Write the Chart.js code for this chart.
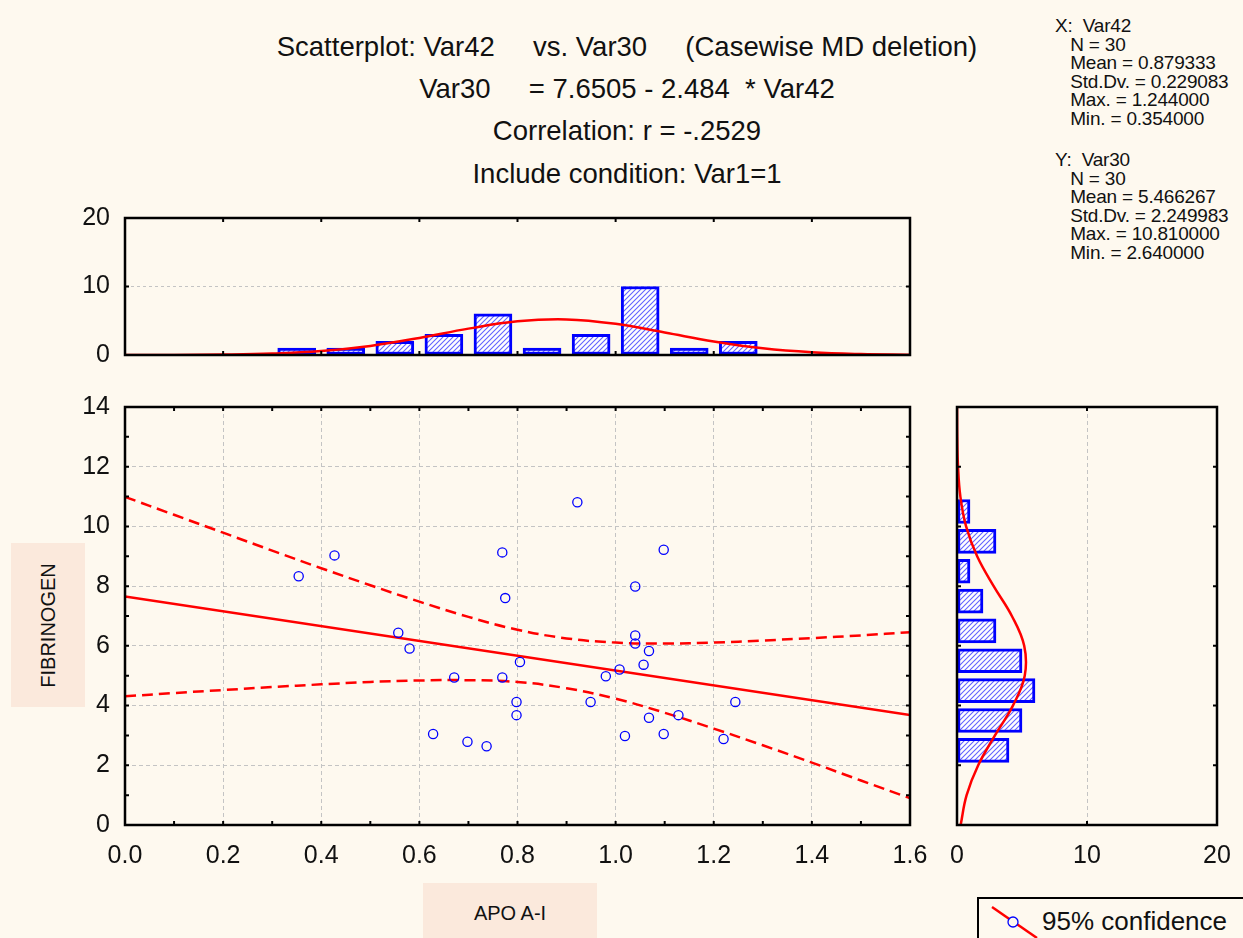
<!DOCTYPE html>
<html lang="en">
<head>
  <meta charset="UTF-8">
  <title>Scatterplot: Var42 vs. Var30</title>
  <style>
    html, body {
      margin: 0;
      width: 1243px;
      height: 938px;
      overflow: hidden;
      background: #fef9ef;
      font-family: "Liberation Sans", Arial, sans-serif;
      color: #111;
    }
    .abs { position: absolute; }
    .title {
      left: 127px;
      width: 1000px;
      text-align: center;
      font-size: 27.5px;
      line-height: 30px;
      white-space: pre;
    }
    .stats {
      left: 1055px;
      font-size: 19px;
      line-height: 18.6px;
      white-space: pre;
      letter-spacing: -0.2px;
    }
    .axlabel {
      background: #fbe9dc;
      font-size: 20px;
      display: flex;
      align-items: center;
      justify-content: center;
    }
    canvas { position: absolute; }
    .legend {
      left: 977px;
      top: 897px;
      width: 290px;
      height: 60px;
      border: 2px solid #000;
      box-sizing: border-box;
    }
  </style>
</head>
<body>
  <div class="abs title" style="top:32px">Scatterplot: Var42     vs. Var30     (Casewise MD deletion)</div>
  <div class="abs title" style="top:74px">Var30     = 7.6505 - 2.484  * Var42</div>
  <div class="abs title" style="top:116px">Correlation: r = -.2529</div>
  <div class="abs title" style="top:159px">Include condition: Var1=1</div>

  <div class="abs stats" style="top:17px">X:  Var42
   N = 30
   Mean = 0.879333
   Std.Dv. = 0.229083
   Max. = 1.244000
   Min. = 0.354000</div>
  <div class="abs stats" style="top:151px">Y:  Var30
   N = 30
   Mean = 5.466267
   Std.Dv. = 2.249983
   Max. = 10.810000
   Min. = 2.640000</div>

  <div class="abs axlabel" style="left:11px;top:543px;width:74px;height:164px">
    <span style="transform:rotate(-90deg);white-space:nowrap">FIBRINOGEN</span>
  </div>
  <div class="abs axlabel" style="left:423px;top:883px;width:174px;height:60px">APO A-I</div>

  <div class="abs legend">
    <svg class="abs" style="left:10px;top:6px" width="50" height="36">
      <line x1="3" y1="2" x2="48" y2="33" stroke="#ff0000" stroke-width="2.5"/>
      <circle cx="24" cy="17" r="5" fill="#fef9ef" stroke="#0000ff" stroke-width="1.3"/>
    </svg>
    <div class="abs" style="left:63px;top:7px;font-size:26px;line-height:30px">95% confidence</div>
  </div>

  <canvas id="topHist" width="930" height="170" style="left:0;top:200px"></canvas>
  <canvas id="scatter" width="930" height="500" style="left:0;top:380px"></canvas>
  <canvas id="rightHist" width="313" height="500" style="left:930px;top:380px"></canvas>

  <script src="https://cdn.jsdelivr.net/npm/chart.js"></script>
  <script>
    // --- data ---
    // APO A-I (Var42) and FIBRINOGEN (Var30), 30 cases
    const apoA1 = [0.354, 0.427, 0.769, 0.775, 0.557, 0.580, 0.671, 0.769, 0.805, 0.798,
                   0.798, 0.628, 0.698, 0.737, 0.922, 1.098, 1.040, 1.040, 1.040, 1.068,
                   1.057, 1.008, 0.980, 0.949, 1.068, 1.128, 1.019, 1.098, 1.220, 1.244];
    const fibrinogen = [8.33, 9.03, 9.13, 7.60, 6.44, 5.91, 4.94, 4.94, 5.46, 4.12,
                        3.68, 3.05, 2.79, 2.64, 10.81, 9.22, 7.99, 6.35, 6.08, 5.83,
                        5.37, 5.21, 4.98, 4.12, 3.59, 3.68, 2.98, 3.05, 2.88, 4.12];

    // regression line end points
    const fitX = [0, 1.6];
    const fitY = [7.65, 3.68];

    // 95% confidence band, read every 0.1 along x
    const bandX = [0, 0.1, 0.2, 0.3, 0.4, 0.5, 0.6, 0.7, 0.8, 0.9, 1.0, 1.1, 1.2, 1.3, 1.4, 1.5, 1.6];
    const bandUpper = [10.99, 10.39, 9.79, 9.19, 8.60, 8.03, 7.48, 6.97, 6.54, 6.25, 6.11, 6.08, 6.11, 6.18, 6.26, 6.35, 6.46];
    const bandLower = [4.31, 4.42, 4.52, 4.62, 4.71, 4.79, 4.84, 4.85, 4.79, 4.58, 4.23, 3.76, 3.23, 2.67, 2.09, 1.49, 0.90];

    // histogram of x (top)
    const xBinMid = [0.35, 0.45, 0.55, 0.65, 0.75, 0.85, 0.95, 1.05, 1.15, 1.25];
    const xBinCount = [1, 1, 2, 3, 6, 1, 3, 10, 1, 2];
    const xCurveAt = bandX;
    const xCurveVal = [0.003, 0.016, 0.064, 0.214, 0.585, 1.33, 2.49, 3.85, 4.92, 5.20, 4.55, 3.28, 1.96, 0.97, 0.39, 0.13, 0.04];

    // histogram of y (right)
    const yBinMid = [2.5, 3.5, 4.5, 5.5, 6.5, 7.5, 8.5, 9.5, 10.5];
    const yBinCount = [4, 5, 6, 5, 3, 2, 1, 3, 1];
    const yCurveAt = [0, 1, 2, 3, 4, 5, 6, 7, 8, 9, 10, 11, 12, 13, 14];
    const yCurveVal = [0.28, 0.74, 1.63, 2.92, 4.30, 5.21, 5.17, 4.22, 2.82, 1.55, 0.70, 0.26, 0.08, 0.02, 0.004];

    // tick labels
    const scatterXTicks = [0, 0.2, 0.4, 0.6, 0.8, 1.0, 1.2, 1.4, 1.6];
    const scatterYTicks = [0, 2, 4, 6, 8, 10, 12, 14];
    const countTicks = [0, 10, 20];

    const RED = '#ff0000';
    const BLUE = '#0000ff';
    const GRID = '#c4c4c4';
    const tickFont = { family: '"Liberation Sans", Arial, sans-serif', size: 25 };

    // diagonal hatch for the histogram bars
    function makeHatch() {
      const c = document.createElement('canvas');
      c.width = 5; c.height = 5;
      const g = c.getContext('2d');
      g.fillStyle = '#fff';
      g.fillRect(0, 0, 5, 5);
      g.strokeStyle = '#6464ff';
      g.lineWidth = 1.1;
      g.beginPath();
      g.moveTo(0, 5); g.lineTo(5, 0);
      g.moveTo(-1, 1); g.lineTo(1, -1);
      g.moveTo(4, 6); g.lineTo(6, 4);
      g.stroke();
      return g.createPattern(c, 'repeat');
    }
    const hatch = makeHatch();

    // black frame with inward tick marks
    const framePlugin = {
      id: 'frame',
      afterDatasetsDraw(chart, args, opts) {
        const { ctx, chartArea: a, scales } = chart;
        ctx.save();
        ctx.strokeStyle = '#000';
        ctx.lineWidth = 2;
        const L = 4;
        if (opts.xStep) {
          const s = scales.x;
          const n = Math.round((s.max - s.min) / opts.xStep);
          for (let i = 1; i < n; i++) {
            const p = s.getPixelForValue(s.min + i * opts.xStep);
            ctx.beginPath();
            ctx.moveTo(p, a.bottom); ctx.lineTo(p, a.bottom - L);
            ctx.moveTo(p, a.top); ctx.lineTo(p, a.top + L);
            ctx.stroke();
          }
        }
        if (opts.yStep) {
          const s = scales.y;
          const n = Math.round((s.max - s.min) / opts.yStep);
          for (let i = 1; i < n; i++) {
            const p = s.getPixelForValue(s.min + i * opts.yStep);
            ctx.beginPath();
            ctx.moveTo(a.left, p); ctx.lineTo(a.left + L, p);
            ctx.moveTo(a.right, p); ctx.lineTo(a.right - L, p);
            ctx.stroke();
          }
        }
        ctx.lineWidth = 2.5;
        ctx.strokeRect(a.left, a.top, a.right - a.left, a.bottom - a.top);
        ctx.restore();
      }
    };

    const fitY60 = s => { s.width = 60; s.paddingTop = 0; s.paddingBottom = 0; };
    const fitX40 = s => { s.height = 40; s.paddingLeft = 0; s.paddingRight = 0; };
    const setTicks = list => s => { s.ticks = list.map(v => ({ value: v })); };

    const common = {
      responsive: false,
      animation: false,
      devicePixelRatio: 1,
      plugins: { legend: { display: false }, tooltip: { enabled: false } }
    };

    // --- top histogram ---
    new Chart(document.getElementById('topHist'), {
      type: 'bar',
      data: {
        datasets: [{
          type: 'line',
          data: xCurveAt.map((x, i) => ({ x, y: xCurveVal[i] })),
          borderColor: RED,
          borderWidth: 2.5,
          pointRadius: 0,
          tension: 0.4
        }, {
          data: xBinMid.map((x, i) => ({ x, y: xBinCount[i] })),
          backgroundColor: hatch,
          borderColor: BLUE,
          borderWidth: 3,
          borderSkipped: false,
          barThickness: 38
        }]
      },
      options: {
        ...common,
        layout: { padding: { left: 65, right: 20, top: 18, bottom: 15 } },
        scales: {
          x: { type: 'linear', min: 0, max: 1.6, offset: false, display: false },
          y: {
            min: 0, max: 20,
            afterBuildTicks: setTicks(countTicks),
            afterFit: fitY60,
            border: { display: false, dash: [3, 3] },
            grid: { color: GRID, drawTicks: false },
            ticks: { font: tickFont, color: '#111', padding: 15 }
          }
        },
        plugins: { ...common.plugins, frame: { xStep: 0.2, yStep: 10 } }
      },
      plugins: [framePlugin]
    });

    // --- scatterplot ---
    new Chart(document.getElementById('scatter'), {
      type: 'scatter',
      data: {
        datasets: [{
          data: apoA1.map((x, i) => ({ x, y: fibrinogen[i] })),
          pointRadius: 4.6,
          pointBorderWidth: 1.3,
          borderColor: BLUE,
          backgroundColor: 'rgba(0,0,0,0)'
        }, {
          data: fitX.map((x, i) => ({ x, y: fitY[i] })),
          showLine: true,
          borderColor: RED,
          borderWidth: 2.5,
          pointRadius: 0
        }, {
          data: bandX.map((x, i) => ({ x, y: bandUpper[i] })),
          showLine: true,
          borderColor: RED,
          borderWidth: 2.5,
          borderDash: [11, 6],
          pointRadius: 0,
          tension: 0.4
        }, {
          data: bandX.map((x, i) => ({ x, y: bandLower[i] })),
          showLine: true,
          borderColor: RED,
          borderWidth: 2.5,
          borderDash: [11, 6],
          pointRadius: 0,
          tension: 0.4
        }]
      },
      options: {
        ...common,
        layout: { padding: { left: 65, right: 20, top: 27, bottom: 15 } },
        scales: {
          x: {
            type: 'linear', min: 0, max: 1.6,
            afterBuildTicks: setTicks(scatterXTicks),
            afterFit: fitX40,
            border: { display: false, dash: [4, 3] },
            grid: { color: GRID, drawTicks: false },
            ticks: { font: tickFont, color: '#111', padding: 16, callback: v => v.toFixed(1) }
          },
          y: {
            min: 0, max: 14,
            afterBuildTicks: setTicks(scatterYTicks),
            afterFit: fitY60,
            border: { display: false, dash: [4, 3] },
            grid: { color: GRID, drawTicks: false },
            ticks: { font: tickFont, color: '#111', padding: 15 }
          }
        },
        plugins: { ...common.plugins, frame: { xStep: 0.1, yStep: 1 } }
      },
      plugins: [framePlugin]
    });

    // --- right histogram ---
    new Chart(document.getElementById('rightHist'), {
      type: 'bar',
      data: {
        datasets: [{
          type: 'line',
          data: yCurveAt.map((y, i) => ({ x: yCurveVal[i], y })),
          borderColor: RED,
          borderWidth: 2.5,
          pointRadius: 0,
          tension: 0.4
        }, {
          data: yBinMid.map((y, i) => ({ x: yBinCount[i], y })),
          backgroundColor: hatch,
          borderColor: BLUE,
          borderWidth: 3,
          borderSkipped: false,
          barThickness: 24
        }]
      },
      options: {
        ...common,
        indexAxis: 'y',
        layout: { padding: { left: 27, right: 26, top: 27, bottom: 15 } },
        scales: {
          x: {
            type: 'linear', min: 0, max: 20,
            afterBuildTicks: setTicks(countTicks),
            afterFit: fitX40,
            border: { display: false, dash: [4, 3] },
            grid: { color: GRID, drawTicks: false },
            ticks: { font: tickFont, color: '#111', padding: 16 }
          },
          y: { type: 'linear', min: 0, max: 14, offset: false, display: false }
        },
        plugins: { ...common.plugins, frame: { xStep: 10, yStep: 2 } }
      },
      plugins: [framePlugin]
    });
  </script>
</body>
</html>
